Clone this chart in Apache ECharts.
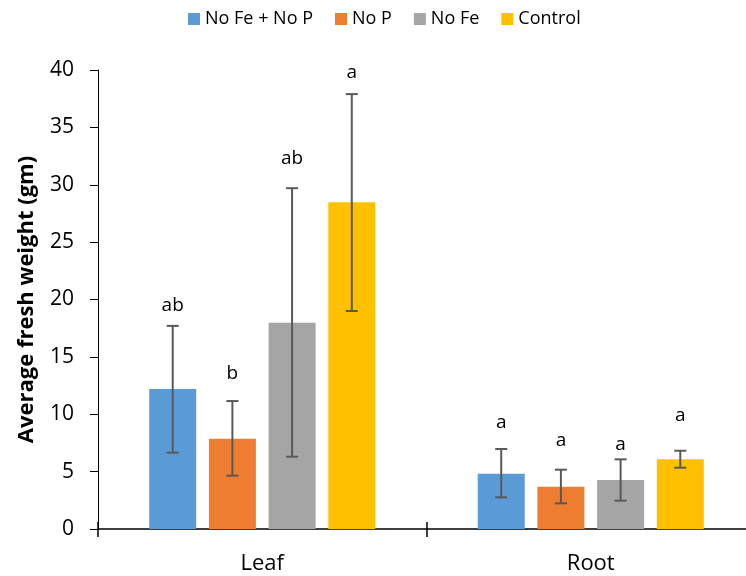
<!DOCTYPE html>
<html>
<head>
<meta charset="utf-8">
<script src="https://cdn.jsdelivr.net/npm/echarts@6/dist/echarts.min.js"></script>
<style>
html,body{margin:0;padding:0;background:#fff;}
#chart{width:746px;height:576px;}
</style>
</head>
<body>
<div id="chart"></div>
<script>
var categories = ['Leaf', 'Root'];
var seriesNames = ['No Fe + No P', 'No P', 'No Fe', 'Control'];
var colors = ['#5B9BD5', '#ED7D31', '#A5A5A5', '#FFC000'];
var noFeNoP = [12.2, 4.82];
var noP = [7.87, 3.69];
var noFe = [17.98, 4.27];
var control = [28.47, 6.07];
var errLow = [[6.65, 2.76], [4.65, 2.24], [6.3, 2.47], [19.0, 5.34]];
var errHigh = [[17.7, 6.97], [11.15, 5.17], [29.7, 6.07], [37.9, 6.82]];
var letters = [['ab', 'a'], ['b', 'a'], ['ab', 'a'], ['a', 'a']];
var letterPos = [[18.65, 8.48], [12.75, 6.88], [31.46, 6.54], [38.93, 9.06]];
var yTicks = [0, 5, 10, 15, 20, 25, 30, 35, 40];

var values = [noFeNoP, noP, noFe, control];
var FONT = '"Open Sans", sans-serif';
var BAR_W = 47;
var GAP_PCT = 27;
var PITCH = BAR_W * (1 + GAP_PCT / 100);

var errData = [];
for (var s = 0; s < 4; s++) {
  for (var c = 0; c < categories.length; c++) {
    errData.push([c, s, errLow[s][c], errHigh[s][c], letterPos[s][c], letters[s][c]]);
  }
}

var series = values.map(function (v, i) {
  return {
    name: seriesNames[i],
    type: 'bar',
    data: v,
    barWidth: BAR_W,
    barGap: GAP_PCT + '%',
    itemStyle: { color: colors[i] },
    z: 2
  };
});

series.push({
  type: 'custom',
  data: errData,
  z: 5,
  silent: true,
  clip: false,
  renderItem: function (params, api) {
    var c = api.value(0), s = api.value(1);
    var center = api.coord([c, 0])[0];
    var x = center + (s - 1.5) * PITCH;
    var yLo = api.coord([c, api.value(2)])[1];
    var yHi = api.coord([c, api.value(3)])[1];
    var yL = api.coord([c, api.value(4)])[1];
    var st = { stroke: '#595959', lineWidth: 2 };
    var cap = 6;
    return {
      type: 'group',
      children: [
        { type: 'line', shape: { x1: x, y1: yLo, x2: x, y2: yHi }, style: st },
        { type: 'line', shape: { x1: x - cap, y1: yLo, x2: x + cap, y2: yLo }, style: st },
        { type: 'line', shape: { x1: x - cap, y1: yHi, x2: x + cap, y2: yHi }, style: st },
        { type: 'text', style: { x: x, y: yL, text: api.value(5), align: 'center', verticalAlign: 'bottom',
          fill: '#000', font: '19px ' + FONT } }
      ]
    };
  }
});

var chart = echarts.init(document.getElementById('chart'));
chart.setOption({
  animation: false,
  backgroundColor: '#fff',
  legend: {
    data: seriesNames,
    left: 183,
    top: 5,
    icon: 'rect',
    itemWidth: 12,
    itemHeight: 12,
    itemGap: 22,
    textStyle: { fontFamily: FONT, fontSize: 18, color: '#000' }
  },
  grid: { left: 98, top: 70, width: 657, height: 459, containLabel: false, outerBoundsMode: 'none' },
  xAxis: [{
    type: 'category',
    data: categories,
    axisLine: { lineStyle: { color: '#000', width: 1.5 } },
    axisTick: { show: true, length: 8, lineStyle: { color: '#000', width: 1.5 } },
    axisLabel: { fontFamily: FONT, fontSize: 22, color: '#000', margin: 24 }
  }, {
    type: 'category',
    data: categories,
    position: 'bottom',
    axisLine: { show: false },
    axisTick: { show: true, inside: true, length: 7, lineStyle: { color: '#000', width: 1.5 } },
    axisLabel: { show: false }
  }],
  yAxis: {
    type: 'value',
    min: yTicks[0],
    max: yTicks[yTicks.length - 1],
    interval: 5,
    name: 'Average fresh weight (gm)',
    nameLocation: 'middle',
    nameGap: 60,
    nameTextStyle: { fontFamily: FONT, fontSize: 22, fontWeight: 'bold', color: '#000' },
    axisLine: { show: true, lineStyle: { color: '#000', width: 1 } },
    axisTick: { show: true, length: 8, lineStyle: { color: '#000' } },
    axisLabel: { fontFamily: FONT, fontSize: 21, color: '#000', margin: 24 },
    splitLine: { show: false }
  },
  series: series
});
</script>
</body>
</html>
